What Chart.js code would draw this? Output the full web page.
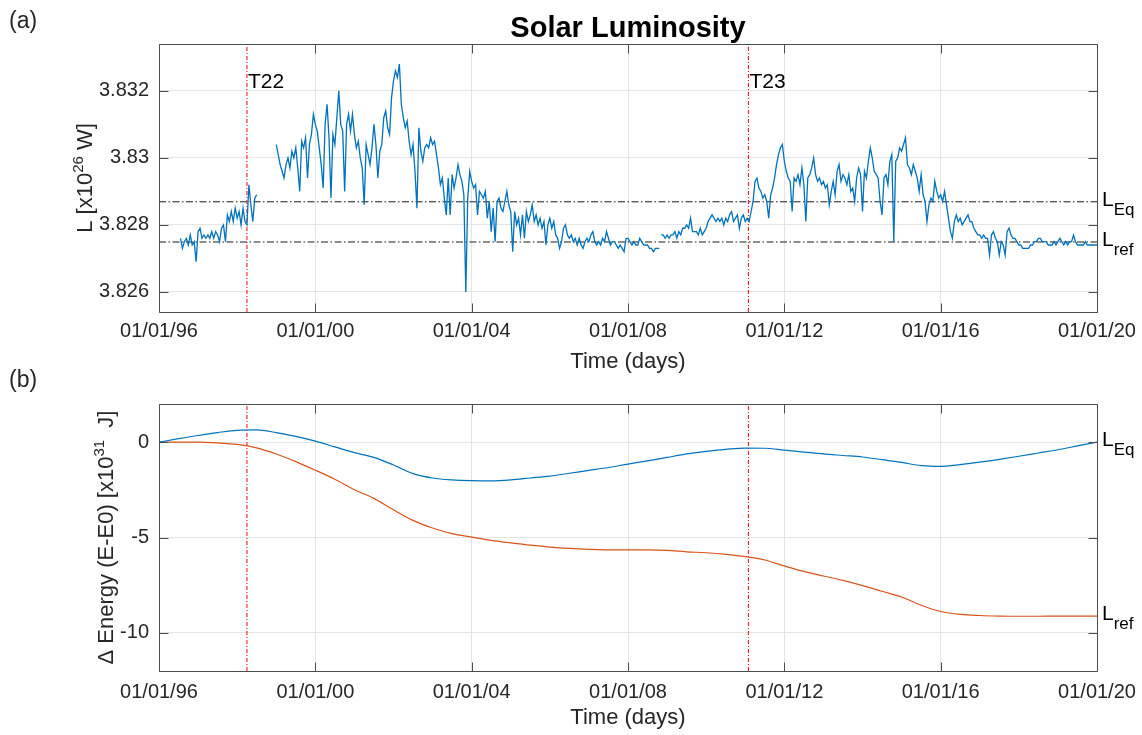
<!DOCTYPE html>
<html>
<head>
<meta charset="utf-8">
<script src="https://cdn.jsdelivr.net/npm/chart.js@4.4.1/dist/chart.umd.min.js"></script>
<style>
  html, body { margin: 0; padding: 0; background: #fff; }
  #wrap { position: relative; width: 1142px; height: 735px; overflow: hidden; }
  #wrap canvas { position: absolute; left: 0; }
  #lumChart { top: 0; }
  #energyChart { top: 355px; }
</style>
</head>
<body>
<div id="wrap">
  <canvas id="lumChart" width="1142" height="380"></canvas>
  <canvas id="energyChart" width="1142" height="380"></canvas>
</div>
<script>
// time axis (decimal years)
const X_MIN = 1996;
const X_MAX = 2020;
const xTickYears = [1996, 2000, 2004, 2008, 2012, 2016, 2020];
const xTickLabels = ['01/01/96', '01/01/00', '01/01/04', '01/01/08', '01/01/12', '01/01/16', '01/01/20'];

// solar luminosity [x10^26 W], sampled every lumStep years, three segments with data gaps between
const lumStep = 0.05;
const lumSegStarts = [1996.55, 1999.0, 2008.85];
const lumSeg1 = [
  3.8276, 3.8273, 3.8275, 3.8276, 3.8274, 3.8277, 3.8274, 3.8275, 3.8269, 3.8278,
  3.8279, 3.8276, 3.8277, 3.8276, 3.8277, 3.8276, 3.8278, 3.8276, 3.8278, 3.8277,
  3.8275, 3.8279, 3.8280, 3.8275, 3.8283, 3.8281, 3.8284, 3.8281, 3.8285, 3.8282,
  3.8284, 3.8280, 3.8285, 3.8281, 3.8280, 3.8292, 3.8286, 3.8281, 3.8288, 3.8289
];
const lumSeg2 = [
  3.8304, 3.8301, 3.8298, 3.8296, 3.8294, 3.8298, 3.8300, 3.8297, 3.8302,
  3.8300, 3.8303, 3.8297, 3.8290, 3.8305, 3.8303, 3.8306, 3.8294, 3.8304, 3.8307,
  3.8313, 3.8310, 3.8308, 3.8303, 3.8298, 3.8291, 3.8310, 3.8316, 3.8306, 3.8288,
  3.8307, 3.8304, 3.8312, 3.8320, 3.8310, 3.8308, 3.8290, 3.8310, 3.8313, 3.8308,
  3.8313, 3.8307, 3.8303, 3.8305, 3.8300, 3.8297, 3.8286, 3.8304, 3.8301, 3.8298,
  3.8303, 3.8310, 3.8304, 3.8294, 3.8302, 3.8304, 3.8312, 3.8314, 3.8309, 3.8307,
  3.8318, 3.8323, 3.8326, 3.8324, 3.8328, 3.8316, 3.8312, 3.8309, 3.8311, 3.8305,
  3.8301, 3.8304, 3.8296, 3.8285, 3.8309, 3.8302, 3.8299, 3.8303, 3.8304,
  3.8303, 3.8306, 3.8304, 3.8305, 3.8301, 3.8297, 3.8292, 3.8294, 3.8288, 3.8283,
  3.8294, 3.8283, 3.8295, 3.8291, 3.8294, 3.8298, 3.8295, 3.8293, 3.8289, 3.8260,
  3.8288, 3.8296, 3.8293, 3.8291, 3.8292, 3.8283, 3.8290, 3.8289, 3.8288, 3.8290,
  3.8282, 3.8287, 3.8278, 3.8285, 3.8275, 3.8287, 3.8288, 3.8285, 3.8284, 3.8287,
  3.8290, 3.8286, 3.8284, 3.8272, 3.8284, 3.8280, 3.8282, 3.8277, 3.8283, 3.8276,
  3.8284, 3.8281, 3.8283, 3.8286, 3.8281, 3.8283, 3.8280, 3.8282, 3.8279, 3.8281,
  3.8274, 3.8280, 3.8282, 3.8279, 3.8281, 3.8277, 3.8276, 3.8273,
  3.8275, 3.8279, 3.8280, 3.8277, 3.8276, 3.8277, 3.8275, 3.8276, 3.8274, 3.8276,
  3.8274, 3.8273, 3.8275, 3.8276, 3.8275, 3.8277, 3.8278, 3.8275, 3.8274, 3.8275,
  3.8274, 3.8276, 3.8275, 3.8278, 3.8276, 3.8274, 3.8275, 3.8275, 3.8274, 3.8273,
  3.8274, 3.8273, 3.8272, 3.8276, 3.8276, 3.8275, 3.8274, 3.8275, 3.8274, 3.8274,
  3.8276, 3.8275, 3.8274, 3.8274, 3.8274, 3.8273, 3.8273, 3.8272, 3.8273, 3.8273,
  3.8273
];
const lumSeg3 = [
  3.8277, 3.8277, 3.8276, 3.8277, 3.8276, 3.8277, 3.8277, 3.8278, 3.8276, 3.8278,
  3.8277, 3.8279, 3.8279, 3.8280, 3.8279, 3.8282, 3.8278, 3.8278,
  3.8278, 3.8277, 3.8279, 3.8277, 3.8278, 3.8279, 3.8281, 3.8282, 3.8283, 3.8282,
  3.8281, 3.8282, 3.8281, 3.8282, 3.8280, 3.8282, 3.8281, 3.8283, 3.8284, 3.8281,
  3.8282, 3.8283, 3.8279, 3.8282, 3.8283, 3.8281, 3.8282, 3.8281, 3.8284, 3.8287,
  3.8293, 3.8294, 3.8291, 3.8290, 3.8288, 3.8289, 3.8287, 3.8282, 3.8289, 3.8291,
  3.8294, 3.8298, 3.8301, 3.8303, 3.8304, 3.8299, 3.8296, 3.8294, 3.8293, 3.8284,
  3.8294, 3.8293, 3.8295, 3.8292, 3.8297, 3.8292, 3.8281, 3.8294, 3.8295, 3.8297,
  3.8300, 3.8295, 3.8293, 3.8294, 3.8292, 3.8293, 3.8291, 3.8292,
  3.8286, 3.8290, 3.8293, 3.8289, 3.8296, 3.8298, 3.8293, 3.8295, 3.8294, 3.8292,
  3.8295, 3.8290, 3.8291, 3.8287, 3.8294, 3.8297, 3.8295, 3.8284, 3.8296, 3.8294,
  3.8299, 3.8303, 3.8300, 3.8296, 3.8295, 3.8294, 3.8287, 3.8283, 3.8294, 3.8295,
  3.8292, 3.8299, 3.8301, 3.8275, 3.8299, 3.8300, 3.8303, 3.8302, 3.8304, 3.8306,
  3.8298, 3.8297, 3.8295, 3.8298, 3.8296, 3.8294, 3.8290, 3.8295, 3.8289, 3.8287,
  3.8281, 3.8286, 3.8288, 3.8287, 3.8293, 3.8290, 3.8288, 3.8289, 3.8287, 3.8290,
  3.8286, 3.8282, 3.8278, 3.8276, 3.8281, 3.8283, 3.8281, 3.8282, 3.8280,
  3.8281, 3.8282, 3.8283, 3.8281, 3.8281, 3.8279, 3.8278, 3.8277, 3.8277, 3.8276,
  3.8277, 3.8276, 3.8276, 3.8271, 3.8277, 3.8278, 3.8276, 3.8275, 3.8271, 3.8275,
  3.8274, 3.8271, 3.8278, 3.8279, 3.8277, 3.8276, 3.8276, 3.8275, 3.8274, 3.8274,
  3.8273, 3.8273, 3.8273, 3.8273, 3.8274, 3.8274, 3.8275, 3.8275, 3.8276, 3.8276,
  3.8275, 3.8275, 3.8275, 3.8274, 3.8274, 3.8274, 3.8275, 3.8274, 3.8275, 3.8276,
  3.8275, 3.8274, 3.8275, 3.8274, 3.8275, 3.8275, 3.8277, 3.8275, 3.8274, 3.8274,
  3.8274, 3.8274, 3.8275, 3.8274, 3.8274, 3.8274, 3.8274, 3.8274, 3.8274
];
const lumMin = 3.8254;
const lumMax = 3.8334;
const lumTicks = [3.826, 3.828, 3.83, 3.832];
const lumTickLabels = ['3.826', '3.828', '3.83', '3.832'];
const lumEq = 3.82869;
const lumRef = 3.82749;

// solar cycle markers
const cycleYears = [1998.25, 2011.08];
const cycleNames = ['T22', 'T23'];

// cumulative energy difference [x10^31 J]
const energyYears = [
  1996, 1996.5, 1997, 1997.5, 1998, 1998.5, 1999, 1999.5, 2000, 2000.5,
  2001, 2001.5, 2002, 2002.5, 2003, 2003.5, 2004, 2004.5, 2005, 2005.5,
  2006, 2006.5, 2007, 2007.5, 2008, 2008.5, 2009, 2009.5, 2010, 2010.5,
  2011, 2011.5, 2012, 2012.5, 2013, 2013.5, 2014, 2014.5, 2015, 2015.5,
  2016, 2016.5, 2017, 2017.5, 2018, 2018.5, 2019, 2019.5, 2020
];
const energyEq = [
  0.00, 0.18, 0.35, 0.50, 0.62, 0.64, 0.50, 0.30, 0.05, -0.25,
  -0.55, -0.80, -1.20, -1.65, -1.88, -1.98, -2.02, -2.03, -1.98, -1.88,
  -1.78, -1.63, -1.48, -1.33, -1.15, -0.98, -0.80, -0.62, -0.48, -0.38,
  -0.31, -0.32, -0.42, -0.52, -0.62, -0.70, -0.78, -0.92, -1.06, -1.23,
  -1.27, -1.18, -1.05, -0.90, -0.74, -0.57, -0.40, -0.20, 0.00
];
const energyRef = [
  0.00, 0.00, 0.00, -0.04, -0.12, -0.30, -0.62, -1.02, -1.47, -1.95,
  -2.50, -2.95, -3.55, -4.10, -4.50, -4.80, -4.98, -5.15, -5.28, -5.40,
  -5.50, -5.57, -5.62, -5.65, -5.65, -5.65, -5.68, -5.75, -5.80, -5.88,
  -6.00, -6.18, -6.49, -6.78, -7.02, -7.25, -7.52, -7.82, -8.12, -8.55,
  -8.88, -9.03, -9.09, -9.12, -9.13, -9.13, -9.12, -9.12, -9.12
];
const energyMin = -12;
const energyMax = 2;
const energyTicks = [-10, -5, 0];
const energyTickLabels = ['-10', '-5', '0'];

// styling
const FONT = "'Liberation Sans', Arial, Helvetica, sans-serif";
const INK = '#262626';
const GRID = '#e4e4e4';
const BOX = '#4d4d4d';
const BLUE = '#0072BD';
const ORANGE = '#D95319';
const TICK_LEN = 9;
const tickFont = { family: FONT, size: 20 };
const axisTitleFont = { family: FONT, size: 22 };

const lumPoints = [];
[lumSeg1, lumSeg2, lumSeg3].forEach((seg, k) => {
    if (k > 0) lumPoints.push({ x: lumSegStarts[k] - lumStep / 2, y: null });
    seg.forEach((v, i) => lumPoints.push({ x: lumSegStarts[k] + i * lumStep, y: v }));
});

const hLine = (y, color, dash) => ({
    data: [{ x: X_MIN, y }, { x: X_MAX, y }],
    borderColor: color, borderWidth: 1, borderDash: dash, pointRadius: 0, order: 2
});
const vLine = (x, lo, hi) => ({
    data: [{ x, y: lo }, { x, y: hi }],
    borderColor: '#ff0000', borderWidth: 1, borderDash: [4, 2, 1, 2], pointRadius: 0, order: 1
});

// the plot box is fixed by layout padding, so drop the scale's own label overhang
const xScale = (height, labelPad, titlePad) => ({
    type: 'linear', min: X_MIN, max: X_MAX,
    afterBuildTicks: s => { s.ticks = xTickYears.map(v => ({ value: v })); },
    afterFit: s => { s.height = height; s.paddingLeft = 0; s.paddingRight = 0; },
    ticks: { callback: (v, i) => xTickLabels[i], font: tickFont, color: INK, padding: labelPad, maxRotation: 0, autoSkip: false },
    grid: { color: GRID, drawTicks: false },
    border: { display: false },
    title: { display: true, text: 'Time (days)', font: axisTitleFont, color: INK, padding: { top: 0, bottom: titlePad } }
});

const yScale = (min, max, ticks, labels) => ({
    type: 'linear', min, max,
    afterBuildTicks: s => { s.ticks = ticks.map(v => ({ value: v })); },
    afterFit: s => { s.width = 159; s.paddingTop = 0; s.paddingBottom = 0; },
    ticks: { callback: (v, i) => labels[i], font: tickFont, color: INK, padding: 10 },
    grid: { color: GRID, drawTicks: false },
    border: { display: false }
});

function drawRotatedTitle(ctx, baseX, midY, parts) {
    ctx.save();
    ctx.translate(baseX, midY);
    ctx.rotate(-Math.PI / 2);
    ctx.fillStyle = INK;
    ctx.textAlign = 'left';
    ctx.textBaseline = 'alphabetic';
    let total = 0;
    const widths = parts.map(p => {
        ctx.font = `${p.size}px ${FONT}`;
        const w = ctx.measureText(p.text).width;
        total += w;
        return w;
    });
    let x = -total / 2;
    parts.forEach((p, i) => {
        ctx.font = `${p.size}px ${FONT}`;
        ctx.fillText(p.text, x, -p.rise);
        x += widths[i];
    });
    ctx.restore();
}

function drawSubLabel(ctx, x, y, main, sub) {
    ctx.save();
    ctx.fillStyle = '#000';
    ctx.textAlign = 'left';
    ctx.textBaseline = 'alphabetic';
    ctx.font = `21px ${FONT}`;
    ctx.fillText(main, x, y + 4);
    const w = ctx.measureText(main).width;
    ctx.font = `17px ${FONT}`;
    ctx.fillText(sub, x + w, y + 13);
    ctx.restore();
}

function drawText(ctx, text, x, y, font, color, align) {
    ctx.save();
    ctx.font = font;
    ctx.fillStyle = color;
    ctx.textAlign = align || 'left';
    ctx.textBaseline = 'alphabetic';
    ctx.fillText(text, x, y);
    ctx.restore();
}

// box, inward ticks and the extra text of each panel
const makeFrame = (decorate) => ({
    id: 'frame',
    afterDraw(chart) {
        const { ctx, chartArea: a, scales } = chart;
        const L = Math.round(a.left) + 0.5, R = Math.round(a.right) + 0.5;
        const T = Math.round(a.top) + 0.5, B = Math.round(a.bottom) + 0.5;
        ctx.save();
        ctx.strokeStyle = BOX;
        ctx.lineWidth = 1;
        ctx.beginPath();
        ctx.rect(L, T, R - L, B - T);
        scales.x.ticks.forEach(t => {
            const px = Math.round(scales.x.getPixelForValue(t.value)) + 0.5;
            ctx.moveTo(px, T); ctx.lineTo(px, T + TICK_LEN);
            ctx.moveTo(px, B); ctx.lineTo(px, B - TICK_LEN);
        });
        scales.y.ticks.forEach(t => {
            const py = Math.round(scales.y.getPixelForValue(t.value)) + 0.5;
            ctx.moveTo(L, py); ctx.lineTo(L + TICK_LEN, py);
            ctx.moveTo(R, py); ctx.lineTo(R - TICK_LEN, py);
        });
        ctx.stroke();
        ctx.restore();
        decorate(ctx, chart);
    }
});

const baseOptions = (padTop) => ({
    responsive: false,
    devicePixelRatio: 1,
    animation: false,
    layout: { padding: { left: 0, right: 45, top: padTop, bottom: 0 } },
    plugins: { legend: { display: false }, tooltip: { enabled: false } },
    elements: { line: { tension: 0 } }
});

// (a) luminosity
new Chart(document.getElementById('lumChart'), {
    type: 'line',
    data: {
        datasets: [
            { data: lumPoints, borderColor: BLUE, borderWidth: 1.3, pointRadius: 0, spanGaps: false, order: 0 },
            hLine(lumEq, '#1a1a1a', [7, 2.5, 1.5, 2.5]),
            hLine(lumRef, '#1a1a1a', [7, 2.5, 1.5, 2.5]),
            ...cycleYears.map(x => vLine(x, lumMin, lumMax))
        ]
    },
    options: {
        ...baseOptions(44),
        scales: {
            x: xScale(68, 7, 5),
            y: yScale(lumMin, lumMax, lumTicks, lumTickLabels)
        }
    },
    plugins: [makeFrame((ctx, chart) => {
        const { chartArea: a, scales } = chart;
        drawText(ctx, 'Solar Luminosity', (a.left + a.right) / 2, 37, `bold 29px ${FONT}`, '#000', 'center');
        drawText(ctx, '(a)', 9, 28, `23px ${FONT}`, INK);
        drawRotatedTitle(ctx, 92, (a.top + a.bottom) / 2, [
            { text: 'L [x10', size: 22, rise: 0 },
            { text: '26', size: 15, rise: 9 },
            { text: ' W]', size: 22, rise: 0 }
        ]);
        cycleYears.forEach((yr, i) => {
            drawText(ctx, cycleNames[i], scales.x.getPixelForValue(yr) + 1, a.top + 44, `21px ${FONT}`, '#000');
        });
        drawSubLabel(ctx, a.right + 5, scales.y.getPixelForValue(lumEq), 'L', 'Eq');
        drawSubLabel(ctx, a.right + 5, scales.y.getPixelForValue(lumRef), 'L', 'ref');
    })]
});

// (b) energy difference
new Chart(document.getElementById('energyChart'), {
    type: 'line',
    data: {
        datasets: [
            {
                data: energyYears.map((x, i) => ({ x, y: energyEq[i] })),
                borderColor: BLUE, borderWidth: 1.2, pointRadius: 0, cubicInterpolationMode: 'monotone', order: 0
            },
            {
                data: energyYears.map((x, i) => ({ x, y: energyRef[i] })),
                borderColor: ORANGE, borderWidth: 1.2, pointRadius: 0, cubicInterpolationMode: 'monotone', order: 0
            },
            ...cycleYears.map(x => vLine(x, energyMin, energyMax))
        ]
    },
    options: {
        ...baseOptions(49),
        scales: {
            x: xScale(64, 9, 4),
            y: yScale(energyMin, energyMax, energyTicks, energyTickLabels)
        }
    },
    plugins: [makeFrame((ctx, chart) => {
        const { chartArea: a, scales } = chart;
        drawText(ctx, '(b)', 9, 32, `23px ${FONT}`, INK);
        drawRotatedTitle(ctx, 113, (a.top + a.bottom) / 2, [
            { text: '\u0394 Energy (E-E0) [x10', size: 22, rise: 0 },
            { text: '31', size: 15, rise: 9 },
            { text: '  J]', size: 22, rise: 0 }
        ]);
        drawSubLabel(ctx, a.right + 5, scales.y.getPixelForValue(energyEq[energyEq.length - 1]), 'L', 'Eq');
        drawSubLabel(ctx, a.right + 5, scales.y.getPixelForValue(energyRef[energyRef.length - 1]), 'L', 'ref');
    })]
});
</script>
</body>
</html>
